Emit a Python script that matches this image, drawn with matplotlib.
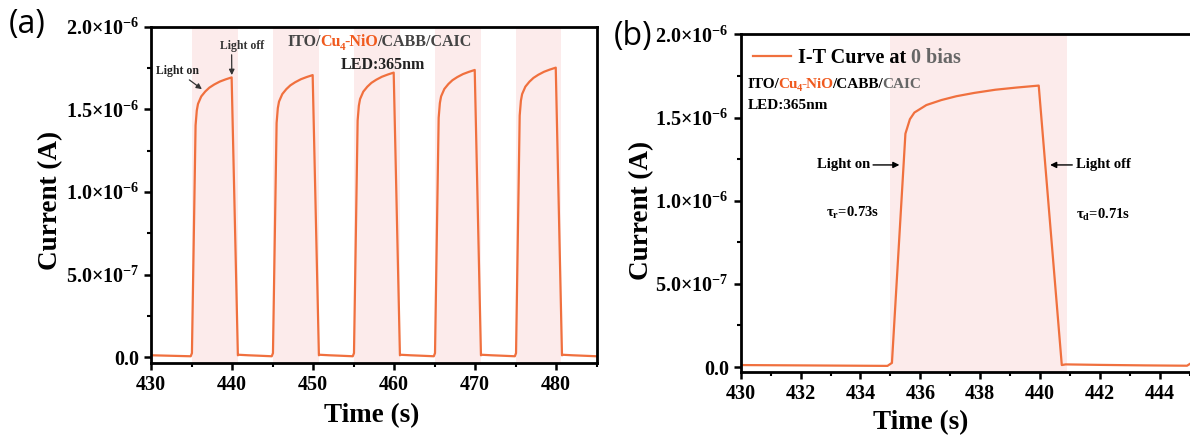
import matplotlib
matplotlib.use('Agg')
import matplotlib.pyplot as plt
import numpy as np
from matplotlib.ticker import FixedLocator, MultipleLocator

plt.rcParams['font.family'] = ['Liberation Serif', 'DejaVu Serif']
plt.rcParams['font.weight'] = 'bold'
plt.rcParams['axes.labelweight'] = 'bold'
plt.rcParams['mathtext.fontset'] = 'custom'
plt.rcParams['mathtext.rm'] = 'Liberation Serif:bold'
plt.rcParams['mathtext.it'] = 'Liberation Serif:bold'
plt.rcParams['mathtext.bf'] = 'Liberation Serif:bold'

# ---- data (current in units of 1e-6 A) ----
# panel (a): five on/off cycles
time_a = [430.0, 434.9, 435.05, 435.5, 435.65, 435.8, 436.2, 436.7, 437.2, 437.8, 438.5, 439.2, 439.95,
          440.72, 440.85, 442.0, 443.5,
          444.9, 445.05, 445.5, 445.65, 445.8, 446.2, 446.7, 447.2, 447.8, 448.5, 449.2, 449.95,
          450.72, 450.85, 452.0, 453.5,
          454.9, 455.05, 455.5, 455.65, 455.8, 456.2, 456.7, 457.2, 457.8, 458.5, 459.2, 459.95,
          460.72, 460.85, 462.0, 463.5,
          464.9, 465.05, 465.5, 465.65, 465.8, 466.2, 466.7, 467.2, 467.8, 468.5, 469.2, 469.95,
          470.72, 470.85, 472.0, 473.5,
          474.9, 475.05, 475.5, 475.65, 475.8, 476.2, 476.7, 477.2, 477.8, 478.5, 479.2, 479.95,
          480.72, 480.85, 482.0, 483.5, 485.0]
current_a = [0.012, 0.006, 0.025, 1.403, 1.493, 1.533, 1.578, 1.608, 1.631, 1.650, 1.668, 1.681, 1.693,
             0.012, 0.015, 0.012, 0.009,
             0.006, 0.025, 1.417, 1.507, 1.547, 1.592, 1.622, 1.645, 1.664, 1.682, 1.695, 1.707,
             0.012, 0.015, 0.012, 0.009,
             0.006, 0.025, 1.432, 1.522, 1.562, 1.607, 1.637, 1.660, 1.679, 1.697, 1.710, 1.722,
             0.012, 0.015, 0.012, 0.009,
             0.006, 0.025, 1.448, 1.538, 1.578, 1.623, 1.653, 1.676, 1.695, 1.713, 1.726, 1.738,
             0.012, 0.015, 0.012, 0.009,
             0.006, 0.025, 1.462, 1.552, 1.592, 1.637, 1.667, 1.690, 1.709, 1.727, 1.740, 1.752,
             0.012, 0.015, 0.012, 0.009, 0.006]
light_on_a = [435.1, 445.1, 455.1, 465.1, 475.0]
light_off_a = [440.7, 450.7, 460.7, 470.7, 480.6]

# panel (b): single cycle
time_b = [430.0, 432.0, 434.9, 435.05, 435.5, 435.65, 435.8, 436.2, 436.7, 437.2, 437.8, 438.5,
          439.2, 439.95, 440.72, 440.85, 442.0, 443.5, 444.9, 445.05]
current_b = [0.012, 0.010, 0.007, 0.025, 1.403, 1.490, 1.530, 1.575, 1.605, 1.628, 1.648, 1.667,
             1.680, 1.692, 0.012, 0.016, 0.013, 0.010, 0.008, 0.025]
light_on_b = [434.98]
light_off_b = [440.88]

ytick_vals = [0, 5e-7, 1e-6, 1.5e-6, 2e-6]
ytick_labels = ['0.0', '5.0×10$^{-7}$', '1.0×10$^{-6}$', '1.5×10$^{-6}$', '2.0×10$^{-6}$']

line_color = '#f0703e'
shade_color = '#fcebeb'
orange = '#f05a1e'


def style_axes(ax):
    for s in ax.spines.values():
        s.set_linewidth(2.0)
    ax.yaxis.set_major_locator(FixedLocator(ytick_vals))
    ax.set_yticklabels(ytick_labels)
    ax.yaxis.set_minor_locator(MultipleLocator(2.5e-7))
    ax.tick_params(which='major', direction='out', length=5, width=1.8, labelsize=14.5,
                   top=False, right=False)
    ax.tick_params(which='minor', direction='out', length=3, width=1.5, top=False, right=False)
    ax.set_ylabel('Current (A)', fontsize=19.5)
    ax.set_xlabel('Time (s)', fontsize=19.5)


def color_text(ax, x, y, parts, size):
    # parts: (text, colour, is_subscript)
    prev = None
    for s, c, sub in parts:
        fs = size * 0.7 if sub else size
        dy = -size * 0.22 if sub else 0
        if prev is None:
            t = ax.text(x, y, s, color=c, fontsize=fs, transform=ax.transAxes,
                        va='baseline', ha='left')
        else:
            t = ax.annotate(s, xy=(1, y), xycoords=(prev, 'axes fraction'),
                            xytext=(-0.8, dy), textcoords='offset points',
                            va='baseline', ha='left', color=c, fontsize=fs)
        prev = t
    return prev


fig = plt.figure(figsize=(11.9, 4.37), dpi=100)

# ---- panel (a) ----
ax1 = fig.add_axes([0.1269, 0.170, 0.3745, 0.769])
for a, b in zip(light_on_a, light_off_a):
    ax1.axvspan(a, b, color=shade_color, lw=0, zorder=0)
ax1.plot(time_a, np.array(current_a) * 1e-6, color=line_color, lw=1.6, zorder=2)
ax1.set_xlim(430, 485)
ax1.set_ylim(-3.3e-8, 2e-6)
ax1.xaxis.set_major_locator(MultipleLocator(10))
ax1.xaxis.set_minor_locator(MultipleLocator(5))
style_axes(ax1)
ax1.yaxis.set_label_coords(-0.197, 0.484)
ax1.xaxis.set_label_coords(0.496, -0.121)

color_text(ax1, 0.307, 0.941, [('ITO/', '#444444', False), ('Cu', orange, False),
                                ('4', orange, True), ('-NiO', orange, False),
                                ('/CABB/CAIC', '#444444', False)], 11.5)
ax1.text(0.52, 0.8726, 'LED:365nm', transform=ax1.transAxes, ha='center', va='baseline',
         fontsize=11.5, color='#222222')

arrow = dict(arrowstyle='-|>', color='#333333', lw=0.9, mutation_scale=8, shrinkA=0, shrinkB=0)
ax1.annotate('Light on', xy=(436.28, 1.622e-6), xytext=(433.26, 1.731e-6), ha='center',
             va='center', fontsize=8.5, color='#222222', arrowprops=arrow)
ax1.annotate('Light off', xy=(439.97, 1.707e-6), xytext=(441.2, 1.883e-6), ha='center',
             va='center', fontsize=8.5, color='#333333',
             arrowprops=dict(arrow, relpos=(0.27, 0.0)))

# ---- panel (b) ----
ax2 = fig.add_axes([0.6224, 0.1494, 0.3776, 0.772])
for a, b in zip(light_on_b, light_off_b):
    ax2.axvspan(a, b, color=shade_color, lw=0, zorder=0)
ax2.plot(time_b, np.array(current_b) * 1e-6, color=line_color, lw=1.6, zorder=2,
         label='I-T Curve at')
ax2.set_xlim(430, 445)
ax2.set_ylim(-2.8e-8, 2e-6)
ax2.xaxis.set_major_locator(MultipleLocator(2))
ax2.xaxis.set_minor_locator(MultipleLocator(1))
style_axes(ax2)
ax2.spines['right'].set_visible(False)
ax2.yaxis.set_label_coords(-0.193, 0.479)
ax2.xaxis.set_label_coords(0.40, -0.115)

leg = ax2.legend(loc='upper left', bbox_to_anchor=(-0.005, 1.0), frameon=False,
                 prop=dict(weight='bold', size=14.5), handlelength=1.9, handletextpad=0.35,
                 borderaxespad=0.3)
leg_text = leg.get_texts()[0]
ax2.annotate(' 0 bias', xy=(1, 0), xycoords=leg_text, va='bottom', ha='left',
             fontsize=14.5, color='#666666', zorder=6)

color_text(ax2, 0.016, 0.841, [('ITO/', 'black', False), ('Cu', orange, False),
                               ('4', orange, True), ('-NiO', orange, False),
                               ('/CABB/', 'black', False), ('CAIC', '#666666', False)], 11)
ax2.text(0.016, 0.779, 'LED:365nm', transform=ax2.transAxes, ha='left', va='baseline',
         fontsize=11, color='black')

arrow_b = dict(arrowstyle='-|>', color='black', lw=1.0, mutation_scale=9, shrinkA=0, shrinkB=0)
ax2.annotate('', xy=(435.3, 1.215e-6), xytext=(434.42, 1.215e-6), arrowprops=arrow_b)
ax2.text(433.43, 1.215e-6, 'Light on', ha='center', va='center', fontsize=10.5)
ax2.annotate('', xy=(440.33, 1.215e-6), xytext=(441.07, 1.215e-6), arrowprops=arrow_b)
ax2.text(442.12, 1.215e-6, 'Light off', ha='center', va='center', fontsize=10.5)
ax2.text(433.75, 0.925e-6, 'τ$_\\mathrm{r}$=0.73s', ha='center', va='center', fontsize=10.5)
ax2.text(442.09, 0.913e-6, 'τ$_\\mathrm{d}$=0.71s', ha='center', va='center', fontsize=10.5)

# panel letters
fig.text(27 / 1190, 1 - 25 / 437, '(a)', family='Open Sans', fontweight='normal', fontsize=23,
         ha='center', va='center')
fig.text(633 / 1190, 1 - 37 / 437, '(b)', family='Open Sans', fontweight='normal', fontsize=23,
         ha='center', va='center')

fig.savefig('out.png', dpi=100)
